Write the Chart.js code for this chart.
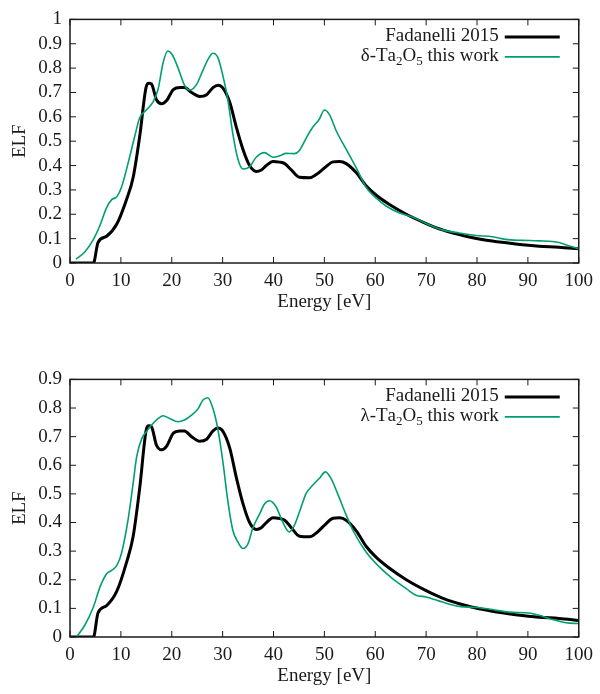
<!DOCTYPE html>
<html>
<head>
<meta charset="utf-8">
<script src="https://cdn.jsdelivr.net/npm/chart.js@4.4.0/dist/chart.umd.min.js"></script>
<style>
  body { margin: 0; background: #fff; }
  #top { position: absolute; left: 0; top: 0; width: 600px; height: 320px; }
  #bottom { position: absolute; left: 0; top: 360px; width: 600px; height: 334px; }
</style>
</head>
<body>
<div id="top"><canvas id="elfDelta" width="600" height="320"></canvas></div>
<div id="bottom"><canvas id="elfLambda" width="600" height="334"></canvas></div>
<script>
// Fadanelli 2015 (same reference curve in both panels)
const fadEnergy = [0, 4.6, 5.5, 7.2, 9.2, 11.1, 12.4, 13.7, 15, 15.5, 16, 17, 18, 19, 20.3, 21.6, 22.5, 23.9, 25.5, 26.8, 28.1, 29.1, 30, 31.4, 32.7, 34, 35.3, 36.6, 37.6, 38.6, 39.9, 41.2, 42.2, 43.5, 45.1, 47.1, 48.4, 50, 51.7, 53, 54.3, 56.3, 58.2, 60.2, 62.8, 66.1, 70, 73.2, 77.8, 83, 87.6, 92.2, 96.1, 100];
const fadElf = [0, 0, 0.084, 0.11, 0.16, 0.26, 0.35, 0.52, 0.725, 0.738, 0.735, 0.67, 0.654, 0.667, 0.712, 0.72, 0.72, 0.70, 0.684, 0.69, 0.72, 0.73, 0.72, 0.66, 0.557, 0.466, 0.40, 0.376, 0.382, 0.40, 0.417, 0.414, 0.408, 0.382, 0.352, 0.35, 0.363, 0.39, 0.415, 0.417, 0.408, 0.37, 0.317, 0.278, 0.24, 0.20, 0.162, 0.136, 0.11, 0.09, 0.078, 0.069, 0.065, 0.058];

// delta-Ta2O5 (this work)
const deltaEnergy = [1.2, 2.9, 4.6, 5.9, 7.2, 8.2, 9.2, 10.1, 11.4, 12.7, 13.7, 15, 16.3, 17.3, 18.3, 19.2, 20.1, 21.2, 22.5, 23.5, 24.8, 26.1, 27.1, 28.1, 29.1, 30.1, 31, 32, 33, 34, 35.3, 36.6, 38.2, 39.9, 41.2, 42.5, 44.1, 45.1, 46.4, 47.7, 49, 50, 51, 52.3, 54.3, 56.3, 58.2, 60.2, 62.2, 64.8, 67.4, 70, 73.2, 76.5, 79.8, 83, 85.6, 88.9, 92.2, 96.1, 98, 100];
const deltaElf = [0.016, 0.045, 0.097, 0.155, 0.227, 0.26, 0.272, 0.31, 0.408, 0.518, 0.596, 0.628, 0.66, 0.712, 0.822, 0.87, 0.855, 0.803, 0.73, 0.71, 0.73, 0.79, 0.835, 0.861, 0.842, 0.764, 0.674, 0.531, 0.427, 0.386, 0.395, 0.434, 0.453, 0.434, 0.44, 0.45, 0.449, 0.462, 0.512, 0.557, 0.59, 0.628, 0.609, 0.544, 0.466, 0.389, 0.311, 0.266, 0.233, 0.205, 0.188, 0.162, 0.136, 0.123, 0.113, 0.108, 0.097, 0.093, 0.091, 0.084, 0.071, 0.058];

// lambda-Ta2O5 (this work)
const lambdaEnergy = [1.3, 2.9, 4.6, 5.9, 7.2, 8.2, 9.2, 10.1, 11.4, 12.4, 13.1, 14.1, 15, 16.3, 17.3, 18.3, 19.6, 21.2, 22.5, 23.9, 25.2, 26.1, 27.1, 28.1, 29.1, 30.1, 31, 32, 33, 34, 35, 35.9, 37.3, 38.2, 39.2, 40.5, 41.8, 43.1, 44.1, 45.1, 46.4, 47.7, 49, 50.2, 51.3, 52.6, 53.9, 55.6, 58.2, 60.8, 63.4, 66.1, 68, 70, 73.2, 76.5, 79.8, 83, 86.3, 90.2, 92.2, 94.8, 97.5, 100];
const lambdaElf = [0, 0.041, 0.105, 0.175, 0.221, 0.233, 0.25, 0.291, 0.408, 0.536, 0.629, 0.693, 0.717, 0.746, 0.763, 0.773, 0.763, 0.752, 0.758, 0.775, 0.798, 0.827, 0.836, 0.798, 0.723, 0.606, 0.478, 0.373, 0.332, 0.309, 0.326, 0.379, 0.431, 0.464, 0.476, 0.455, 0.402, 0.367, 0.39, 0.437, 0.501, 0.53, 0.554, 0.577, 0.554, 0.501, 0.443, 0.373, 0.297, 0.245, 0.204, 0.169, 0.146, 0.14, 0.122, 0.107, 0.103, 0.096, 0.087, 0.084, 0.076, 0.061, 0.05, 0.047];

const FONT = '"Liberation Serif", "Times New Roman", serif';
const FS = 19;
Chart.defaults.font.family = FONT;
Chart.defaults.font.size = FS;
Chart.defaults.color = '#1a1a1a';

const toPoints = (xs, ys) => xs.map((x, i) => ({ x: x, y: ys[i] }));

// "_c" in a label means subscript c
function richParts(text) {
  const parts = [];
  for (let i = 0; i < text.length; i++) {
    if (text[i] === '_' && i + 1 < text.length) {
      parts.push({ t: text[i + 1], sub: true });
      i++;
    } else {
      parts.push({ t: text[i], sub: false });
    }
  }
  return parts;
}

// gnuplot-ish box: frame, inward ticks on all sides, legend at top right
const gnuFrame = {
  id: 'gnuFrame',
  afterDatasetsDraw(chart) {
    const { ctx, chartArea: a, scales } = chart;
    ctx.save();
    ctx.strokeStyle = '#1a1a1a';
    ctx.lineWidth = 1.5;
    ctx.strokeRect(a.left, a.top, a.right - a.left, a.bottom - a.top);
    const tl = 6;
    ctx.lineWidth = 1;
    ctx.beginPath();
    scales.x.ticks.forEach(t => {
      const px = scales.x.getPixelForValue(t.value);
      ctx.moveTo(px, a.bottom); ctx.lineTo(px, a.bottom - tl);
      ctx.moveTo(px, a.top); ctx.lineTo(px, a.top + tl);
    });
    scales.y.ticks.forEach(t => {
      const py = scales.y.getPixelForValue(t.value);
      ctx.moveTo(a.left, py); ctx.lineTo(a.left + tl, py);
      ctx.moveTo(a.right, py); ctx.lineTo(a.right - tl, py);
    });
    ctx.stroke();

    // legend
    ctx.textBaseline = 'middle';
    chart.data.datasets.forEach((ds, i) => {
      const y = a.top + 17 + i * 20;
      const parts = richParts(ds.label);
      let w = 0;
      parts.forEach(p => {
        ctx.font = (p.sub ? '13px ' : FS + 'px ') + FONT;
        p.w = ctx.measureText(p.t).width;
        w += p.w;
      });
      let x = a.right - 80 - w;
      ctx.fillStyle = '#1a1a1a';
      parts.forEach(p => {
        ctx.font = (p.sub ? '13px ' : FS + 'px ') + FONT;
        ctx.fillText(p.t, x, p.sub ? y + 5 : y);
        x += p.w;
      });
      ctx.strokeStyle = ds.borderColor;
      ctx.lineWidth = ds.borderWidth;
      ctx.beginPath();
      ctx.moveTo(a.right - 74, y + 0.5);
      ctx.lineTo(a.right - 19, y + 0.5);
      ctx.stroke();
    });
    ctx.restore();
  }
};

function makeChart(canvasId, greenLabel, greenX, greenY, yMax, padTop) {
  return new Chart(document.getElementById(canvasId), {
    type: 'line',
    data: {
      datasets: [
        {
          label: 'Fadanelli 2015',
          data: toPoints(fadEnergy, fadElf),
          borderColor: '#000000',
          borderWidth: 3,
          pointRadius: 0,
          cubicInterpolationMode: 'monotone',
          order: 1
        },
        {
          label: greenLabel,
          data: toPoints(greenX, greenY),
          borderColor: '#009e73',
          borderWidth: 1.6,
          pointRadius: 0,
          cubicInterpolationMode: 'monotone',
          order: 0
        }
      ]
    },
    options: {
      responsive: false,
      animation: false,
      layout: { padding: { top: padTop, right: 19, left: 0, bottom: 0 } },
      plugins: {
        legend: { display: false },
        tooltip: { enabled: false }
      },
      scales: {
        x: {
          type: 'linear',
          min: 0,
          max: 100,
          ticks: { stepSize: 10, padding: 7, maxRotation: 0, autoSkip: false },
          grid: { display: false, drawTicks: false },
          border: { display: false },
          title: { display: true, text: 'Energy [eV]', padding: { bottom: 7, top: 0 } },
          afterFit: s => { s.height = 57; }
        },
        y: {
          min: 0,
          max: yMax,
          ticks: { stepSize: 0.1, padding: 8, autoSkip: false, callback: v => String(+v.toFixed(2)) },
          grid: { display: false, drawTicks: false },
          border: { display: false },
          title: { display: true, text: 'ELF', padding: { top: 9, bottom: 0 } },
          afterFit: s => { s.width = 70; }
        }
      }
    },
    plugins: [gnuFrame]
  });
}

makeChart('elfDelta', 'δ-Ta_2O_5 this work', deltaEnergy, deltaElf, 1, 6);
makeChart('elfLambda', 'λ-Ta_2O_5 this work', lambdaEnergy, lambdaElf, 0.9, 19);
</script>
</body>
</html>
